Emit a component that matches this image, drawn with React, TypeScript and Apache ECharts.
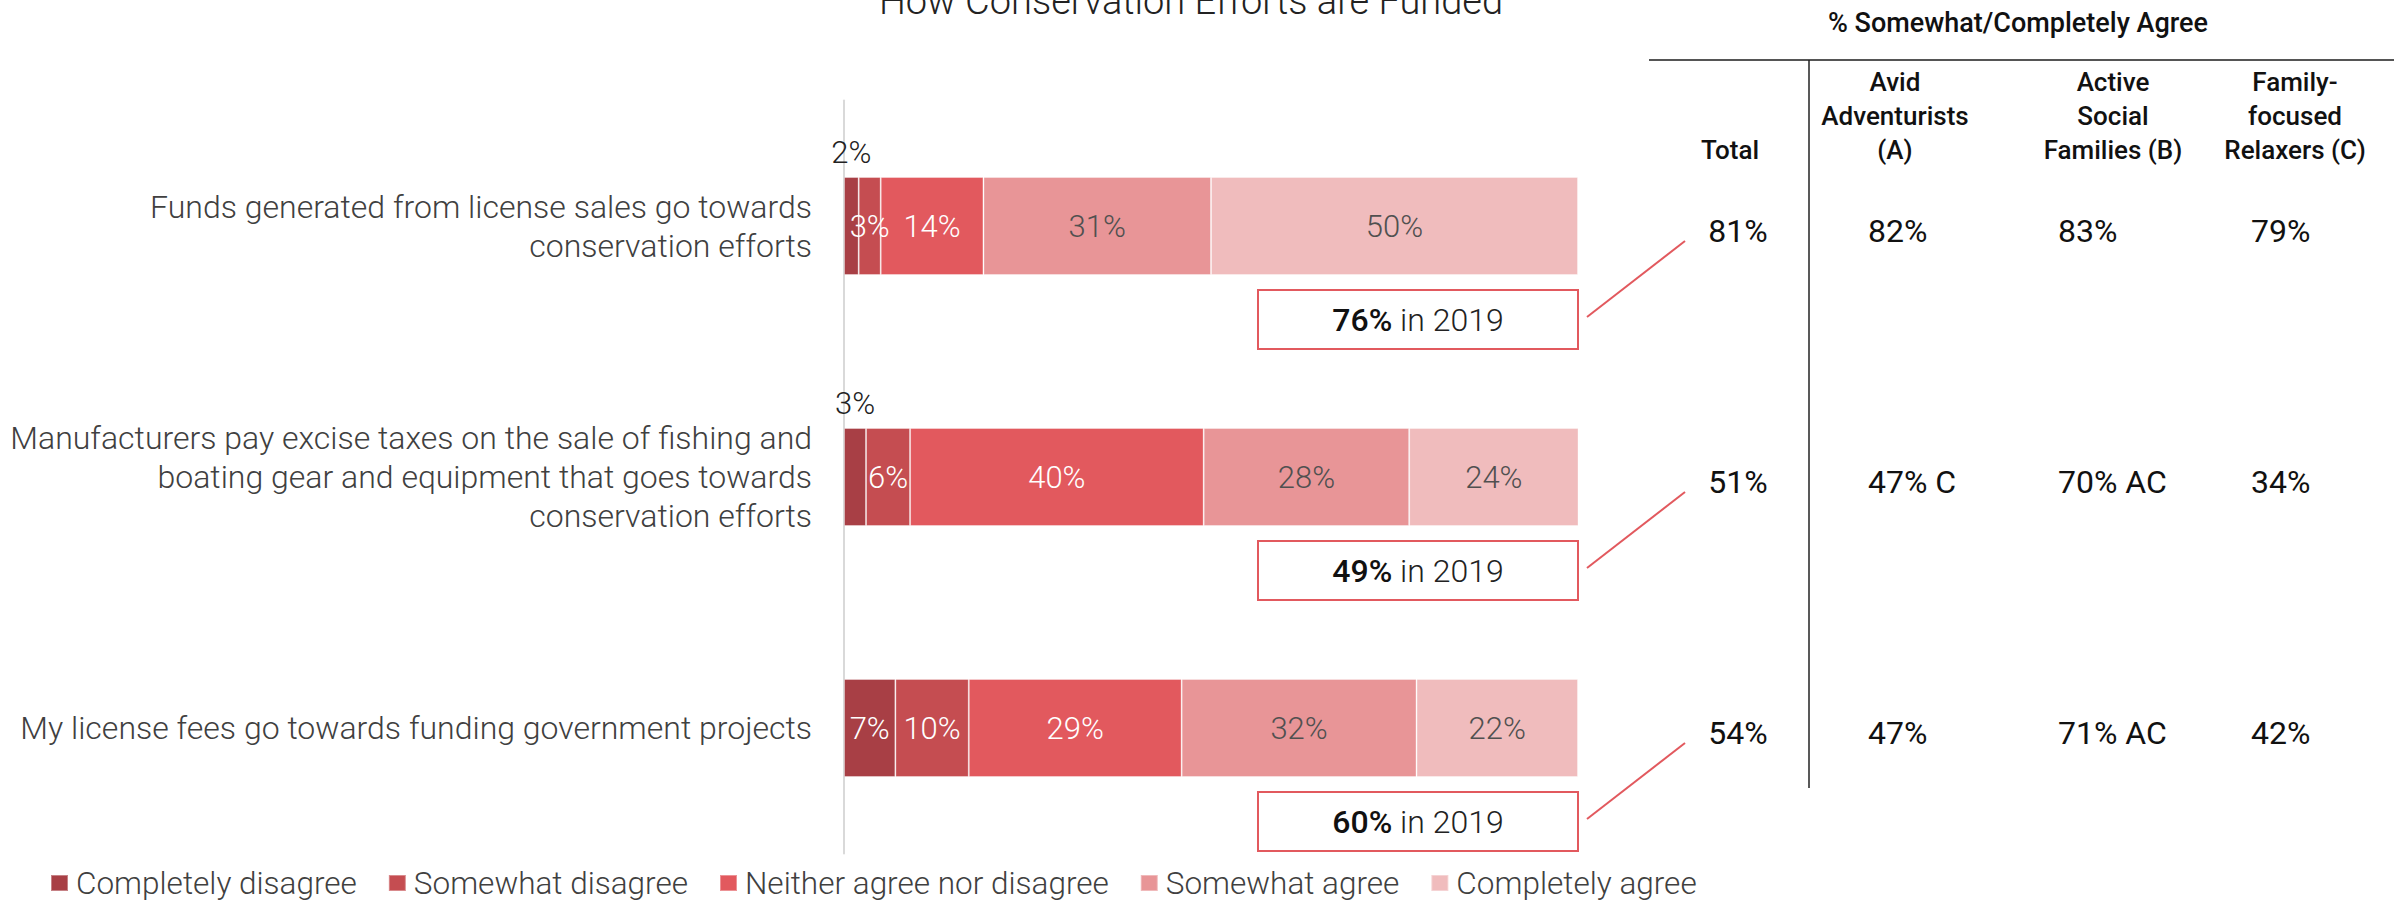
import React, { useEffect, useRef } from "react";
import * as echarts from "echarts";

const categories = [
  "Funds generated from license sales go towards\nconservation efforts",
  "Manufacturers pay excise taxes on the sale of fishing and\nboating gear and equipment that goes towards\nconservation efforts",
  "My license fees go towards funding government projects",
];
const seriesNames = [
  "Completely disagree",
  "Somewhat disagree",
  "Neither agree nor disagree",
  "Somewhat agree",
  "Completely agree",
];
const completelyDisagree = [2, 3, 7];
const somewhatDisagree = [3, 6, 10];
const neitherAgree = [14, 40, 29];
const somewhatAgree = [31, 28, 32];
const completelyAgree = [50, 24, 22];
const prior2019 = [76, 49, 60];

const tableTitle = "% Somewhat/Completely Agree";
const tableHeaders = ["Total", "Avid\nAdventurists\n(A)", "Active\nSocial\nFamilies (B)", "Family-\nfocused\nRelaxers (C)"];
const totalCol = ["81%", "51%", "54%"];
const avidCol = ["82%", "47% C", "47%"];
const activeCol = ["83%", "70% AC", "71% AC"];
const familyCol = ["79%", "34%", "42%"];

const colors = ["#A83F45", "#C54D51", "#E2595E", "#E89597", "#F0BCBD"];
const labelColors = ["#ffffff", "#ffffff", "#ffffff", "#505050", "#505050"];
const FONT = "Roboto";

export default function App() {
  const ref = useRef<HTMLDivElement>(null);
  useEffect(() => {
    if (!ref.current) return;
    const chart = echarts.init(ref.current, null, { renderer: "svg" });
    const allData = [completelyDisagree, somewhatDisagree, neitherAgree, somewhatAgree, completelyAgree];
    const series = allData.map((arr, si) => ({
      name: seriesNames[si],
      type: "bar",
      stack: "total",
      barWidth: 98,
      itemStyle: { color: colors[si], borderColor: "rgba(255,255,255,0.35)", borderWidth: 1 },
      label: {
        show: true,
        position: "inside",
        formatter: "{c}%",
        color: labelColors[si],
        fontFamily: FONT,
        fontWeight: 300,
        fontSize: 31,
      },
      data: arr.map((v) =>
        si === 0 && v < 5
          ? { value: v, label: { position: "top", distance: 9, color: "#222222" } }
          : { value: v }
      ),
    }));

    chart.setOption({
      animation: false,
      backgroundColor: "#ffffff",
      grid: { left: 844, right: 816, top: 100.5, bottom: 49.5, containLabel: false },
      xAxis: { type: "value", min: 0, max: 100, show: false },
      yAxis: {
        type: "category",
        inverse: true,
        data: categories,
        axisLine: { show: true, lineStyle: { color: "#d9d9d9", width: 2 } },
        axisTick: { show: false },
        axisLabel: {
          margin: 32,
          align: "right",
          fontFamily: FONT,
          fontWeight: 300,
          fontSize: 32,
          lineHeight: 39,
          color: "#404040",
        },
      },
      legend: {
        data: seriesNames,
        left: 50,
        top: 867,
        padding: 0,
        icon: "rect",
        itemWidth: 17,
        itemHeight: 16,
        itemGap: 31,
        textStyle: { fontFamily: FONT, fontWeight: 300, fontSize: 31.5, color: "#404040", padding: [0, 0, 0, 3] },
      },
      series,
    });

    const ys = categories.map((c) => chart.convertToPixel({ yAxisIndex: 0 }, c) as number);
    const x100 = chart.convertToPixel({ xAxisIndex: 0 }, 100) as number;

    const graphic: any[] = [];
    graphic.push({
      type: "text",
      x: 1191,
      y: 1,
      style: {
        text: "How Conservation Efforts are Funded",
        align: "center",
        verticalAlign: "middle",
        fontFamily: FONT,
        fontWeight: 300,
        fontSize: 38,
        fill: "#222222",
      },
    });
    graphic.push({
      type: "text",
      x: 2018,
      y: 23,
      style: { text: tableTitle, align: "center", verticalAlign: "middle", fontFamily: FONT, fontWeight: 500, fontSize: 27, fill: "#111111" },
    });
    graphic.push({ type: "line", shape: { x1: 1649, y1: 60, x2: 2394, y2: 60 }, style: { stroke: "#555555", lineWidth: 2 } });
    graphic.push({ type: "line", shape: { x1: 1809, y1: 60, x2: 1809, y2: 788 }, style: { stroke: "#222222", lineWidth: 1.5 } });
    const headerX = [1730, 1895, 2113, 2295];
    tableHeaders.forEach((h, i) => {
      const lines = h.split("\n");
      lines.forEach((ln, li) => {
        graphic.push({
          type: "text",
          x: headerX[i],
          y: 150 - (lines.length - 1 - li) * 34,
          style: { text: ln, align: "center", verticalAlign: "middle", fontFamily: FONT, fontWeight: 500, fontSize: 26, fill: "#111111" },
        });
      });
    });

    const valStyle = { verticalAlign: "middle", fontFamily: FONT, fontWeight: 400, fontSize: 32, fill: "#111111" };
    ys.forEach((c, i) => {
      graphic.push({
        type: "rect",
        shape: { x: x100 - 320, y: c + 64, width: 320, height: 59 },
        style: { fill: "#ffffff", stroke: "#E2595E", lineWidth: 2 },
      });
      graphic.push({
        type: "text",
        x: x100 - 160,
        y: c + 94,
        style: {
          text: `{b|${prior2019[i]}%}{r| in 2019}`,
          align: "center",
          verticalAlign: "middle",
          rich: {
            b: { fontFamily: FONT, fontWeight: 500, fontSize: 32, fill: "#111111" },
            r: { fontFamily: FONT, fontWeight: 300, fontSize: 32, fill: "#222222" },
          },
        },
      });
      graphic.push({
        type: "line",
        shape: { x1: x100 + 9, y1: c + 91, x2: x100 + 107, y2: c + 15 },
        style: { stroke: "#E2595E", lineWidth: 2 },
      });
      graphic.push({ type: "text", x: 1738, y: c + 5, style: { ...valStyle, text: totalCol[i], align: "center" } });
      graphic.push({ type: "text", x: 1868, y: c + 5, style: { ...valStyle, text: avidCol[i], align: "left" } });
      graphic.push({ type: "text", x: 2058, y: c + 5, style: { ...valStyle, text: activeCol[i], align: "left" } });
      graphic.push({ type: "text", x: 2251, y: c + 5, style: { ...valStyle, text: familyCol[i], align: "left" } });
    });

    chart.setOption({ graphic });

    return () => chart.dispose();
  }, []);

  return (
    <div
      ref={ref}
      style={{ position: "absolute", left: 0, top: 0, width: 2394, height: 903, background: "#fff" }}
    />
  );
}
